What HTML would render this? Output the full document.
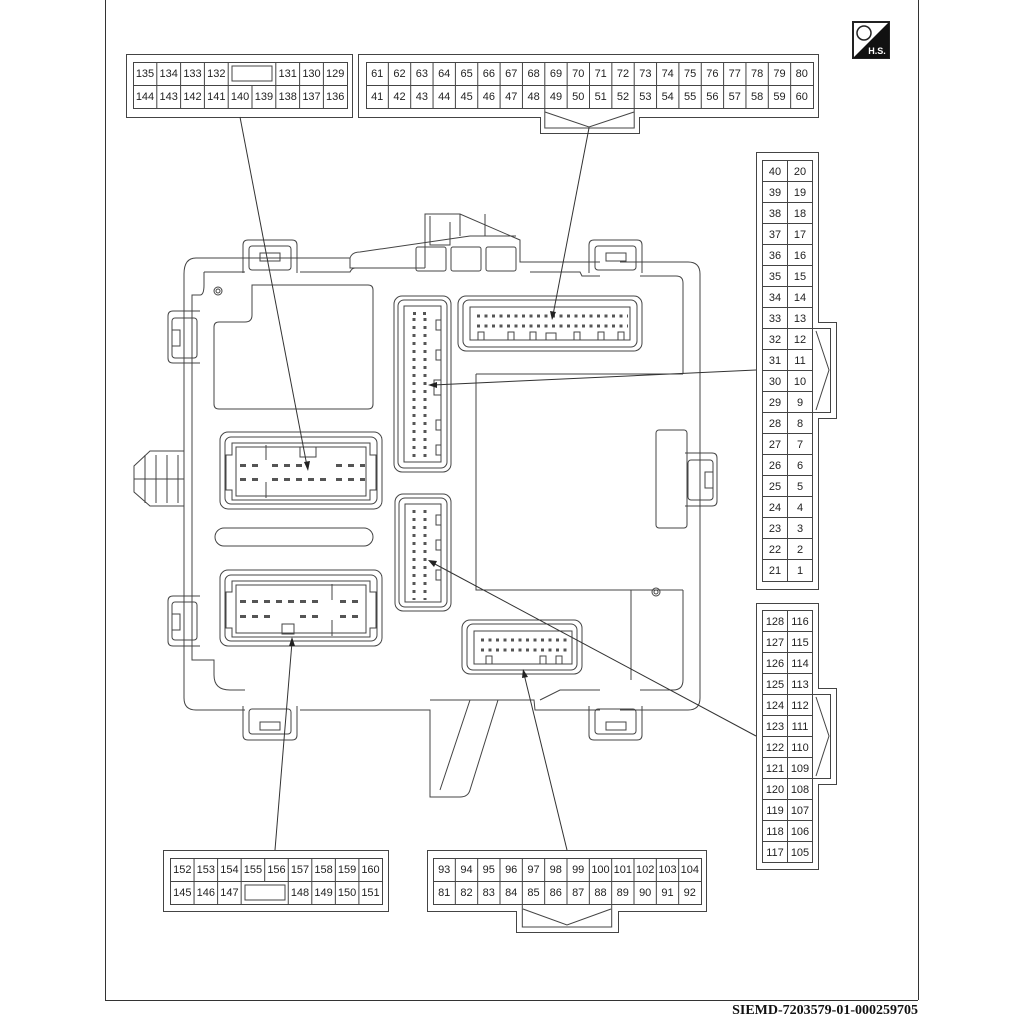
<!DOCTYPE html>
<html><head><meta charset="utf-8"><style>
html,body{margin:0;padding:0;background:#fff}
svg{display:block}
text{font-family:"Liberation Sans",sans-serif;font-size:11px;fill:#222;text-anchor:middle}
</style></head><body>
<svg width="1024" height="1024" viewBox="0 0 1024 1024" xmlns="http://www.w3.org/2000/svg">
<g fill="none" stroke="#333" stroke-width="1">
<line x1="105.5" y1="0" x2="105.5" y2="1000"/>
<line x1="105" y1="1000.5" x2="918" y2="1000.5"/>
<line x1="918.5" y1="0" x2="918.5" y2="1000"/>
</g>
<rect x="853" y="22" width="36" height="36" fill="#fff" stroke="#222" stroke-width="2"/>
<polygon points="889,22 889,58 853,58" fill="#111"/>
<circle cx="864" cy="33" r="7" fill="none" stroke="#222" stroke-width="1.5"/>
<text x="877" y="54" style="font-size:9px;font-weight:bold;fill:#fff">H.S.</text>

<g fill="none" stroke="#444" stroke-width="1">
<rect x="126.5" y="54.5" width="226" height="63"/>
<rect x="133.5" y="62.5" width="214" height="46"/>
<line x1="133" y1="85.5" x2="347" y2="85.5"/>
<path d="M156.8 62V108M180.6 62V108M204.4 62V108M228.2 62V108M275.8 62V108M299.6 62V108M323.4 62V108M252 85V108"/>
<rect x="232" y="66" width="40" height="15"/>

<path d="M358.5 54.5H818.5V117.5H639.5V133.5H540.5V117.5H358.5Z"/>
<rect x="366.5" y="62.5" width="447" height="46"/>
<line x1="366" y1="85.5" x2="813" y2="85.5"/>
<path d="M388.35 62V108M410.7 62V108M433.05 62V108M455.4 62V108M477.75 62V108M500.1 62V108M522.45 62V108M544.8 62V108M567.15 62V108M589.5 62V108M611.85 62V108M634.2 62V108M656.55 62V108M678.9 62V108M701.25 62V108M723.6 62V108M745.95 62V108M768.3 62V108M790.65 62V108"/>
<path d="M544.8 108V128H634.2V108M545 112L589 127L634 112"/>

<path d="M756.5 152.5H818.5V322.5H836.5V418.5H818.5V589.5H756.5Z"/>
<rect x="762.5" y="160.5" width="50" height="421"/>
<line x1="787.5" y1="160" x2="787.5" y2="581"/>
<path d="M762 181.5H812M762 202.5H812M762 223.5H812M762 244.5H812M762 265.5H812M762 286.5H812M762 307.5H812M762 328.5H812M762 349.5H812M762 370.5H812M762 391.5H812M762 412.5H812M762 433.5H812M762 454.5H812M762 475.5H812M762 496.5H812M762 517.5H812M762 538.5H812M762 559.5H812"/>
<path d="M812 328.5H830.5V412.5H812M816 331L829 370L816 410"/>

<path d="M756.5 603.5H818.5V688.5H836.5V784.5H818.5V869.5H756.5Z"/>
<rect x="762.5" y="610.5" width="50" height="252"/>
<line x1="787.5" y1="610" x2="787.5" y2="862"/>
<path d="M762 631.5H812M762 652.5H812M762 673.5H812M762 694.5H812M762 715.5H812M762 736.5H812M762 757.5H812M762 778.5H812M762 799.5H812M762 820.5H812M762 841.5H812"/>
<path d="M812 694.5H830.5V778.5H812M816 697L829 736L816 776"/>

<rect x="163.5" y="850.5" width="225" height="61"/>
<rect x="170.5" y="858.5" width="212" height="46"/>
<line x1="170" y1="881.5" x2="382" y2="881.5"/>
<path d="M194.05 858V904M217.6 858V904M241.15 858V904M288.25 858V904M311.8 858V904M335.35 858V904M358.9 858V904M264.7 858V881"/>
<rect x="245" y="885" width="40" height="15"/>

<path d="M427.5 850.5H706.5V911.5H618.5V932.5H516.5V911.5H427.5Z"/>
<rect x="433.5" y="858.5" width="268" height="46"/>
<line x1="433" y1="881.5" x2="701" y2="881.5"/>
<path d="M455.33 858V904M477.67 858V904M500 858V904M522.33 858V904M544.67 858V904M567 858V904M589.33 858V904M611.67 858V904M634 858V904M656.33 858V904M678.67 858V904"/>
<path d="M522.3 904V927H611.7V904M523 909L567 925L611 909"/>
</g>

<g>
<text x="145" y="77">135</text><text x="168.7" y="77">134</text><text x="192.5" y="77">133</text><text x="216.3" y="77">132</text><text x="287.7" y="77">131</text><text x="311.5" y="77">130</text><text x="335.2" y="77">129</text>
<text x="145" y="100">144</text><text x="168.7" y="100">143</text><text x="192.5" y="100">142</text><text x="216.3" y="100">141</text><text x="240.1" y="100">140</text><text x="263.9" y="100">139</text><text x="287.7" y="100">138</text><text x="311.5" y="100">137</text><text x="335.2" y="100">136</text>

<text x="377.2" y="77">61</text><text x="399.5" y="77">62</text><text x="421.9" y="77">63</text><text x="444.2" y="77">64</text><text x="466.6" y="77">65</text><text x="488.9" y="77">66</text><text x="511.3" y="77">67</text><text x="533.6" y="77">68</text><text x="556" y="77">69</text><text x="578.3" y="77">70</text><text x="600.7" y="77">71</text><text x="623" y="77">72</text><text x="645.4" y="77">73</text><text x="667.7" y="77">74</text><text x="690.1" y="77">75</text><text x="712.4" y="77">76</text><text x="734.8" y="77">77</text><text x="757.1" y="77">78</text><text x="779.5" y="77">79</text><text x="801.8" y="77">80</text>
<text x="377.2" y="100">41</text><text x="399.5" y="100">42</text><text x="421.9" y="100">43</text><text x="444.2" y="100">44</text><text x="466.6" y="100">45</text><text x="488.9" y="100">46</text><text x="511.3" y="100">47</text><text x="533.6" y="100">48</text><text x="556" y="100">49</text><text x="578.3" y="100">50</text><text x="600.7" y="100">51</text><text x="623" y="100">52</text><text x="645.4" y="100">53</text><text x="667.7" y="100">54</text><text x="690.1" y="100">55</text><text x="712.4" y="100">56</text><text x="734.8" y="100">57</text><text x="757.1" y="100">58</text><text x="779.5" y="100">59</text><text x="801.8" y="100">60</text>

<text x="775" y="175">40</text><text x="800" y="175">20</text>
<text x="775" y="196">39</text><text x="800" y="196">19</text>
<text x="775" y="217">38</text><text x="800" y="217">18</text>
<text x="775" y="238">37</text><text x="800" y="238">17</text>
<text x="775" y="259">36</text><text x="800" y="259">16</text>
<text x="775" y="280">35</text><text x="800" y="280">15</text>
<text x="775" y="301">34</text><text x="800" y="301">14</text>
<text x="775" y="322">33</text><text x="800" y="322">13</text>
<text x="775" y="343">32</text><text x="800" y="343">12</text>
<text x="775" y="364">31</text><text x="800" y="364">11</text>
<text x="775" y="385">30</text><text x="800" y="385">10</text>
<text x="775" y="406">29</text><text x="800" y="406">9</text>
<text x="775" y="427">28</text><text x="800" y="427">8</text>
<text x="775" y="448">27</text><text x="800" y="448">7</text>
<text x="775" y="469">26</text><text x="800" y="469">6</text>
<text x="775" y="490">25</text><text x="800" y="490">5</text>
<text x="775" y="511">24</text><text x="800" y="511">4</text>
<text x="775" y="532">23</text><text x="800" y="532">3</text>
<text x="775" y="553">22</text><text x="800" y="553">2</text>
<text x="775" y="574">21</text><text x="800" y="574">1</text>

<g style="font-size:10px">
<text x="775" y="625">128</text><text x="800" y="625">116</text>
<text x="775" y="646">127</text><text x="800" y="646">115</text>
<text x="775" y="667">126</text><text x="800" y="667">114</text>
<text x="775" y="688">125</text><text x="800" y="688">113</text>
<text x="775" y="709">124</text><text x="800" y="709">112</text>
<text x="775" y="730">123</text><text x="800" y="730">111</text>
<text x="775" y="751">122</text><text x="800" y="751">110</text>
<text x="775" y="772">121</text><text x="800" y="772">109</text>
<text x="775" y="793">120</text><text x="800" y="793">108</text>
<text x="775" y="814">119</text><text x="800" y="814">107</text>
<text x="775" y="835">118</text><text x="800" y="835">106</text>
<text x="775" y="856">117</text><text x="800" y="856">105</text>
</g>

<text x="182.3" y="873">152</text><text x="205.8" y="873">153</text><text x="229.4" y="873">154</text><text x="252.9" y="873">155</text><text x="276.5" y="873">156</text><text x="300" y="873">157</text><text x="323.6" y="873">158</text><text x="347.1" y="873">159</text><text x="370.5" y="873">160</text>
<text x="182.3" y="896">145</text><text x="205.8" y="896">146</text><text x="229.4" y="896">147</text><text x="300" y="896">148</text><text x="323.6" y="896">149</text><text x="347.1" y="896">150</text><text x="370.5" y="896">151</text>

<text x="444.2" y="873">93</text><text x="466.5" y="873">94</text><text x="488.8" y="873">95</text><text x="511.2" y="873">96</text><text x="533.5" y="873">97</text><text x="555.8" y="873">98</text><text x="578.2" y="873">99</text><text x="600.5" y="873">100</text><text x="622.8" y="873">101</text><text x="645.2" y="873">102</text><text x="667.5" y="873">103</text><text x="689.8" y="873">104</text>
<text x="444.2" y="896">81</text><text x="466.5" y="896">82</text><text x="488.8" y="896">83</text><text x="511.2" y="896">84</text><text x="533.5" y="896">85</text><text x="555.8" y="896">86</text><text x="578.2" y="896">87</text><text x="600.5" y="896">88</text><text x="622.8" y="896">89</text><text x="645.2" y="896">90</text><text x="667.5" y="896">91</text><text x="689.8" y="896">92</text>
</g>

<g fill="none" stroke="#444" stroke-width="1">
<path d="M425 268V214H460L520 240V262H530"/>
<path d="M430 216V245H450V222M460 214V236M485 214V236M470 236H516"/>
<rect x="416" y="247" width="30" height="24" rx="2"/>
<rect x="451" y="247" width="30" height="24" rx="2"/>
<rect x="486" y="247" width="30" height="24" rx="2"/>
<path d="M350 258Q352 252 360 252L470 236"/>
<path d="M196 258H350V268H425M530 262H600M620 262H688Q700 262 700 274V698Q700 710 688 710H620M600 710H535L534 700H498L470 790Q468 797 460 797H430V710H300M245 710H196Q184 710 184 698V274Q184 258 196 258"/>
<path d="M204 272H245M300 272H350Q352 268 355 268M530 272H580L582 276H600M640 276H676Q683 276 683 283V374M683 590V680Q683 690 673 690H640M600 690H560L540 700M245 690H230Q214 690 214 675V660H192V295H200Q204 295 204 285V272"/>
<path d="M470 700L440 790M430 700H498"/>
<path d="M252 285H368Q373 285 373 290V404Q373 409 368 409H219Q214 409 214 404V327Q214 322 219 322H245Q252 322 252 315Z"/>
<path d="M476 374H683M476 374V590H631V680M631 590H683"/>
<rect x="656" y="430" width="31" height="98" rx="3"/>
<circle cx="218" cy="291" r="4"/><circle cx="218" cy="291" r="2"/>
<circle cx="656" cy="592" r="4"/><circle cx="656" cy="592" r="2"/>
<rect x="215" y="528" width="158" height="18" rx="9"/>

<path d="M243 273V245Q243 240 248 240H292Q297 240 297 245V273"/>
<rect x="249" y="246" width="42" height="24" rx="3"/>
<rect x="260" y="253" width="20" height="8"/>
<path d="M589 273V245Q589 240 594 240H637Q642 240 642 245V273"/>
<rect x="595" y="246" width="41" height="24" rx="3"/>
<rect x="606" y="253" width="20" height="8"/>
<path d="M243 706V735Q243 740 248 740H292Q297 740 297 735V706"/>
<rect x="249" y="709" width="42" height="25" rx="3"/>
<rect x="260" y="722" width="20" height="8"/>
<path d="M589 706V735Q589 740 594 740H637Q642 740 642 735V706"/>
<rect x="595" y="709" width="41" height="25" rx="3"/>
<rect x="606" y="722" width="20" height="8"/>
<path d="M200 311H173Q168 311 168 316V358Q168 363 173 363H200"/>
<rect x="172" y="318" width="25" height="40" rx="3"/>
<rect x="172" y="330" width="8" height="16"/>
<path d="M200 596H173Q168 596 168 601V641Q168 646 173 646H200"/>
<rect x="172" y="602" width="25" height="38" rx="3"/>
<rect x="172" y="614" width="8" height="16"/>
<path d="M685 453H712Q717 453 717 458V501Q717 506 712 506H685"/>
<rect x="688" y="460" width="25" height="40" rx="3"/>
<rect x="705" y="472" width="8" height="16"/>
<path d="M184 451H150L134 466V492L150 506H184"/>
<path d="M145 455V503M156 455V503M167 455V503M178 455V503M134 479H184"/>

<rect x="220" y="432" width="162" height="77" rx="8"/>
<rect x="225" y="437" width="152" height="67" rx="6"/>
<path d="M232 443H370V455H376V490H370V500H232V490H226V455H232Z"/>
<path d="M236 447H366V496H236Z"/>
<line x1="266" y1="445" x2="266" y2="460"/><line x1="266" y1="482" x2="266" y2="498"/>
<rect x="300" y="447" width="16" height="10"/>
<rect x="220" y="570" width="162" height="76" rx="8"/>
<rect x="225" y="575" width="152" height="66" rx="6"/>
<path d="M232 581H370V592H376V628H370V637H232V628H226V592H232Z"/>
<path d="M236 585H366V633H236Z"/>
<line x1="332" y1="584" x2="332" y2="600"/><line x1="332" y1="620" x2="332" y2="636"/>
<rect x="282" y="624" width="12" height="10"/>
<rect x="394" y="296" width="57" height="176" rx="8"/>
<rect x="398" y="300" width="49" height="168" rx="6"/>
<path d="M404 306H441V462H404Z"/>
<path d="M441 320H436V330H441M441 350H436V360H441M441 380H434V395H441M441 420H436V430H441M441 445H436V455H441"/>
<rect x="395" y="494" width="56" height="117" rx="8"/>
<rect x="399" y="498" width="48" height="109" rx="6"/>
<path d="M405 504H441V602H405Z"/>
<path d="M441 515H436V525H441M441 540H436V550H441M441 570H436V580H441"/>
<rect x="458" y="296" width="184" height="55" rx="8"/>
<rect x="463" y="300" width="174" height="47" rx="6"/>
<path d="M470 307H630V340H470Z"/>
<path d="M478 340V332H484V340M508 340V332H514V340M530 340V332H536V340M546 340V333H556V340M574 340V332H580V340M598 340V332H604V340M618 340V332H624V340"/>
<rect x="462" y="620" width="120" height="54" rx="8"/>
<rect x="467" y="624" width="110" height="46" rx="6"/>
<path d="M474 631H572V664H474Z"/>
<path d="M486 664V656H492V664M540 664V656H546V664M556 664V656H562V664"/>
</g>

<g fill="#555">
<rect x="240" y="464" width="6" height="3"/><rect x="252" y="464" width="6" height="3"/><rect x="272" y="464" width="6" height="3"/><rect x="284" y="464" width="6" height="3"/><rect x="296" y="464" width="6" height="3"/><rect x="336" y="464" width="6" height="3"/><rect x="348" y="464" width="6" height="3"/><rect x="360" y="464" width="5" height="3"/>
<rect x="240" y="478" width="6" height="3"/><rect x="252" y="478" width="6" height="3"/><rect x="272" y="478" width="6" height="3"/><rect x="284" y="478" width="6" height="3"/><rect x="296" y="478" width="6" height="3"/><rect x="308" y="478" width="6" height="3"/><rect x="320" y="478" width="6" height="3"/><rect x="336" y="478" width="6" height="3"/><rect x="348" y="478" width="6" height="3"/><rect x="360" y="478" width="5" height="3"/>
<rect x="240" y="600" width="6" height="3"/><rect x="252" y="600" width="6" height="3"/><rect x="264" y="600" width="6" height="3"/><rect x="276" y="600" width="6" height="3"/><rect x="288" y="600" width="6" height="3"/><rect x="300" y="600" width="6" height="3"/><rect x="312" y="600" width="6" height="3"/><rect x="340" y="600" width="6" height="3"/><rect x="352" y="600" width="6" height="3"/>
<rect x="240" y="615" width="6" height="3"/><rect x="252" y="615" width="6" height="3"/><rect x="264" y="615" width="6" height="3"/><rect x="300" y="615" width="6" height="3"/><rect x="312" y="615" width="6" height="3"/><rect x="340" y="615" width="6" height="3"/><rect x="352" y="615" width="6" height="3"/>
<path d="M413 312h3v3h-3zM423 312h3v3h-3z"/>
</g>
<g stroke="#555" stroke-width="3" stroke-dasharray="3 5" fill="none">
<line x1="414" y1="318" x2="414" y2="462"/><line x1="425" y1="318" x2="425" y2="462"/>
<line x1="414" y1="510" x2="414" y2="600"/><line x1="425" y1="510" x2="425" y2="600"/>
<line x1="477" y1="316" x2="628" y2="316" stroke-dasharray="3 4.5"/><line x1="477" y1="326" x2="628" y2="326" stroke-dasharray="3 4.5"/>
<line x1="481" y1="640" x2="568" y2="640" stroke-dasharray="3 4.5"/><line x1="481" y1="650" x2="568" y2="650" stroke-dasharray="3 4.5"/>
</g>

<g stroke="#333" stroke-width="1" fill="none">
<line x1="240" y1="117" x2="307" y2="466"/>
<line x1="589" y1="128" x2="553" y2="315"/>
<line x1="756" y1="370" x2="433" y2="385"/>
<line x1="756" y1="736" x2="433" y2="563"/>
<line x1="275" y1="850" x2="292" y2="642"/>
<line x1="567" y1="850" x2="524" y2="674"/>
</g>
<g fill="#222">
<polygon points="308,471 304,462 310,461"/>
<polygon points="552,320 550,311 556,312"/>
<polygon points="428,385 437,382 437,388"/>
<polygon points="428,560 437,561 434,567"/>
<polygon points="292,637 295,646 289,646"/>
<polygon points="523,669 528,677 522,678"/>
</g>

<text x="918" y="1014" style="font-family:'Liberation Serif',serif;font-size:14px;font-weight:bold;fill:#111;text-anchor:end">SIEMD-7203579-01-000259705</text>
</svg>
</body></html>
